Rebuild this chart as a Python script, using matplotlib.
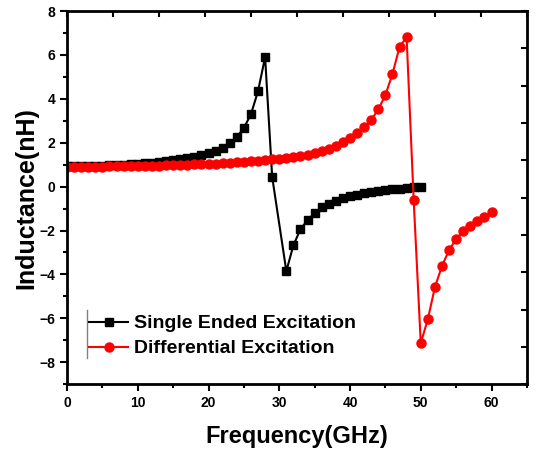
import numpy as np
import matplotlib
matplotlib.use("Agg")
import matplotlib.pyplot as plt
from matplotlib.ticker import MultipleLocator

plt.rcParams['font.family'] = ['Liberation Sans', 'DejaVu Sans']
plt.rcParams['font.weight'] = 'bold'

# Single ended excitation (GHz, nH)
single_f = [0, 1, 2, 3, 4, 5, 6, 7, 8, 9, 10, 11, 12, 13, 14, 15, 16, 17, 18, 19,
            20, 21, 22, 23, 24, 25, 26, 27, 28, 29, 31, 32, 33, 34, 35, 36, 37, 38,
            39, 40, 41, 42, 43, 44, 45, 46, 47, 48, 49, 50]
single_L = [0.92, 0.92, 0.93, 0.94, 0.95, 0.96, 0.97, 0.99, 1.00, 1.02, 1.04, 1.07,
            1.09, 1.12, 1.16, 1.20, 1.25, 1.30, 1.37, 1.44, 1.52, 1.62, 1.78, 1.98,
            2.26, 2.67, 3.30, 4.35, 5.90, 0.44, -3.85, -2.67, -1.94, -1.53, -1.20,
            -0.95, -0.78, -0.64, -0.53, -0.44, -0.37, -0.30, -0.25, -0.20, -0.16,
            -0.12, -0.09, -0.06, -0.03, 0.00]

# Differential excitation (GHz, nH)
diff_f = list(range(0, 61))
diff_L = [0.90, 0.90, 0.90, 0.91, 0.91, 0.91, 0.92, 0.92, 0.93, 0.93, 0.94, 0.95,
          0.95, 0.96, 0.97, 0.98, 0.99, 1.00, 1.01, 1.02, 1.04, 1.05, 1.07, 1.09,
          1.11, 1.13, 1.15, 1.18, 1.21, 1.24, 1.27, 1.31, 1.35, 1.40, 1.46, 1.53,
          1.62, 1.73, 1.86, 2.02, 2.22, 2.44, 2.70, 3.04, 3.52, 4.17, 5.13, 6.36,
          6.81, -0.62, -7.13, -6.04, -4.58, -3.62, -2.89, -2.39, -2.03, -1.78,
          -1.55, -1.37, -1.17]

fig = plt.figure(figsize=(5.36, 4.59), dpi=100)
ax = fig.add_axes([0.125, 0.163, 0.858, 0.813])

ax.plot(single_f, single_L, color='black', lw=1.5, marker='s', ms=6,
        label='Single Ended Excitation')
ax.plot(diff_f, diff_L, color='red', lw=1.5, marker='o', ms=6.5,
        label='Differential Excitation')

ax.set_xlim(0, 65)
ax.set_ylim(-9, 8)
ax.xaxis.set_major_locator(MultipleLocator(10))
ax.xaxis.set_minor_locator(MultipleLocator(5))
ax.yaxis.set_major_locator(MultipleLocator(2))
ax.yaxis.set_minor_locator(MultipleLocator(1))
ax.tick_params(which='major', direction='out', length=5, width=1.5, labelsize=10)
ax.tick_params(which='minor', direction='out', length=3, width=1.5)
for s in ax.spines.values():
    s.set_linewidth(2)

# Origin-style inward ticks on top and right
top = ax.secondary_xaxis('top')
top.set_xticks(np.arange(0, 65.1, 6.5))
top.tick_params(direction='in', length=4, width=1.5, labeltop=False)
right = ax.secondary_yaxis('right')
right.set_yticks(np.arange(-9, 8.1, 1.7))
right.tick_params(direction='in', length=4, width=1.5, labelright=False)

ax.set_xlabel('Frequency(GHz)', fontsize=17, fontweight='bold', labelpad=11)
ax.set_ylabel('Inductance(nH)', fontsize=18, fontweight='bold', labelpad=1)

leg = ax.legend(loc='lower left', bbox_to_anchor=(0.01, 0.025), frameon=False,
                fontsize=14, handlelength=2.0, handletextpad=0.3, labelspacing=0.38)
for t in leg.get_texts():
    t.set_fontweight('bold')
ax.plot([0.043, 0.043], [0.07, 0.2], transform=ax.transAxes,
        color='gray', lw=1)

fig.savefig('out.png', dpi=100)
